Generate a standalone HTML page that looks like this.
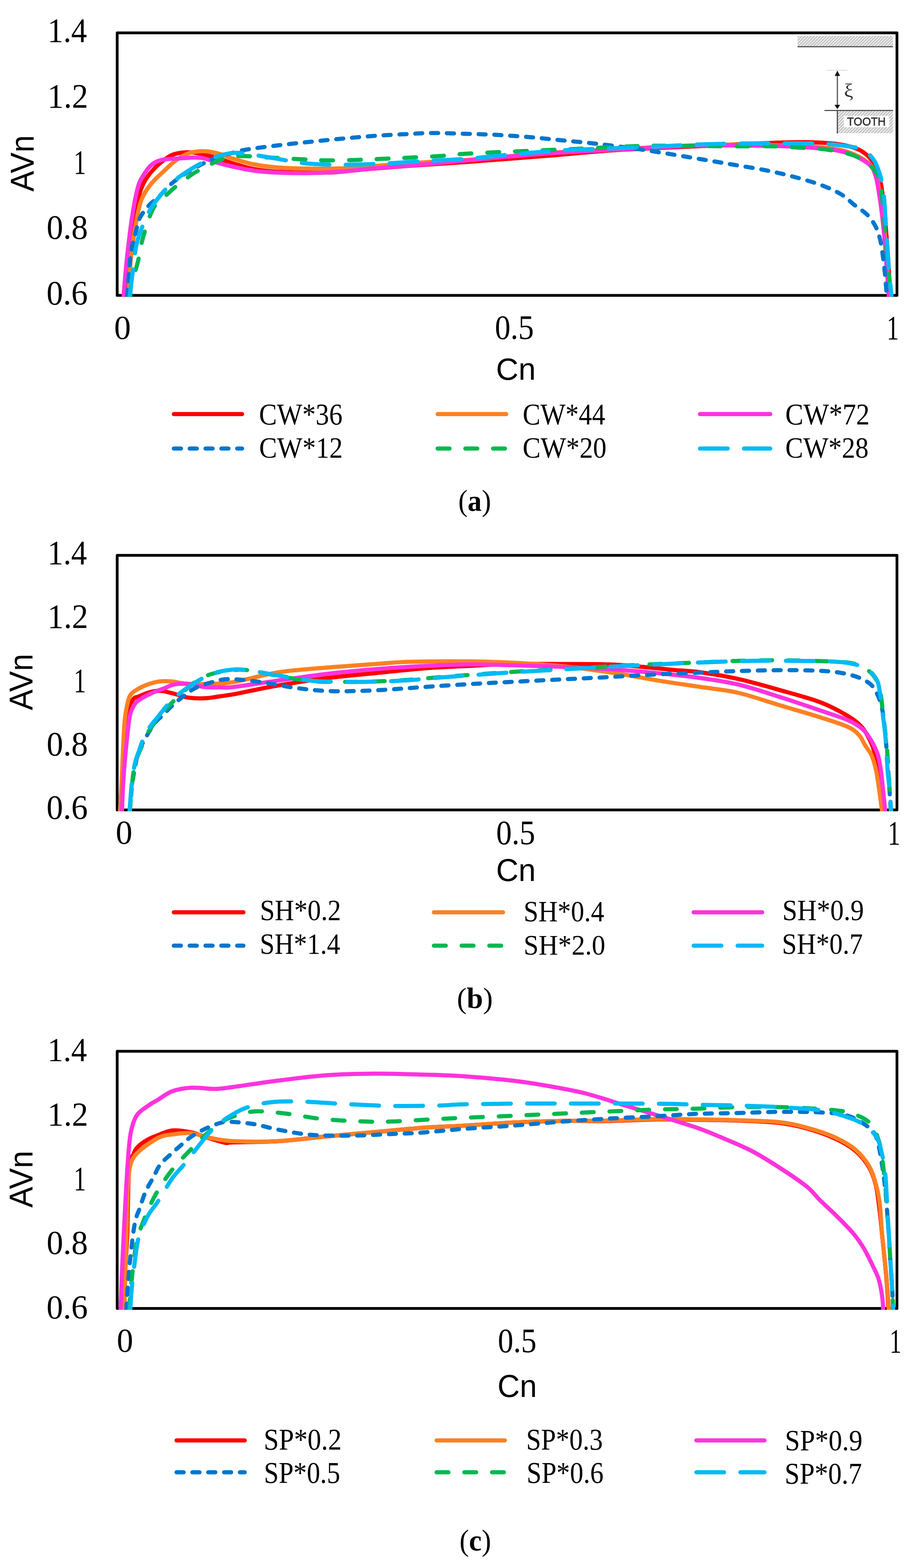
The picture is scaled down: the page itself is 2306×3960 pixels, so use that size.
<!DOCTYPE html><html><head><meta charset="utf-8"><title>AVn vs Cn</title><style>html,body{margin:0;padding:0;background:#fff;}svg{display:block;}</style></head><body>
<svg width="2306" height="3960" viewBox="0 0 2306 3960">
<defs><pattern id="hatch" patternUnits="userSpaceOnUse" width="5.5" height="8" patternTransform="rotate(45)"><rect width="5.5" height="8" fill="#ebebeb"/><rect x="0" y="0" width="1.8" height="8" fill="#b0b0b0"/></pattern><clipPath id="clipa"><rect x="0" y="0" width="2306" height="749.5"/></clipPath><clipPath id="clipb"><rect x="0" y="1380" width="2306" height="669.0"/></clipPath><clipPath id="clipc"><rect x="0" y="2630" width="2306" height="678.0"/></clipPath></defs>
<rect width="2306" height="3960" fill="#fff"/>
<g>
<rect x="296.0" y="83.0" width="1969.5" height="663.0" fill="none" stroke="#000" stroke-width="7" stroke-linejoin="round"/>
<rect x="296.0" y="1402.5" width="1969.5" height="643.0" fill="none" stroke="#000" stroke-width="7" stroke-linejoin="round"/>
<rect x="296.0" y="2655.0" width="1969.5" height="649.5" fill="none" stroke="#000" stroke-width="7" stroke-linejoin="round"/>
<g clip-path="url(#clipa)" fill="none" stroke-linecap="round" stroke-linejoin="round" stroke-width="10.5">
<path d="M316.0,750.0 C317.0,740.0 319.5,710.5 322.0,690.0 C324.5,669.5 327.8,651.2 331.0,627.0 C334.2,602.8 337.7,567.2 341.0,545.0 C344.3,522.8 347.5,507.5 351.0,494.0 C354.5,480.5 357.5,473.2 362.0,464.0 C366.5,454.8 371.3,447.3 378.0,439.0 C384.7,430.7 392.8,421.8 402.0,414.0 C411.2,406.2 422.7,396.8 433.0,392.0 C443.3,387.2 453.8,386.0 464.0,385.0 C474.2,384.0 482.2,384.3 494.0,386.0 C505.8,387.7 523.0,391.8 535.0,395.0 C547.0,398.2 556.8,402.0 566.0,405.0 C575.2,408.0 577.5,409.3 590.0,413.0 C602.5,416.7 622.2,423.5 641.0,427.0 C659.8,430.5 679.0,432.5 703.0,434.0 C727.0,435.5 761.2,435.8 785.0,436.0 C808.8,436.2 822.2,436.5 846.0,435.0 C869.8,433.5 897.3,429.7 928.0,427.0 C958.7,424.3 988.0,422.0 1030.0,419.0 C1072.0,416.0 1122.5,413.2 1180.0,409.0 C1237.5,404.8 1312.0,399.0 1375.0,394.0 C1438.0,389.0 1492.2,383.2 1558.0,379.0 C1623.8,374.8 1713.0,371.7 1770.0,369.0 C1827.0,366.3 1858.3,364.7 1900.0,363.0 C1941.7,361.3 1985.3,359.0 2020.0,359.0 C2054.7,359.0 2084.7,360.5 2108.0,363.0 C2131.3,365.5 2146.3,369.2 2160.0,374.0 C2173.7,378.8 2181.3,384.0 2190.0,392.0 C2198.7,400.0 2206.0,409.0 2212.0,422.0 C2218.0,435.0 2222.0,447.0 2226.0,470.0 C2230.0,493.0 2233.2,530.0 2236.0,560.0 C2238.8,590.0 2240.8,618.3 2243.0,650.0 C2245.2,681.7 2248.0,733.3 2249.0,750.0" stroke="#FF0000"/>
<path d="M324.0,750.0 C324.7,740.0 326.8,707.0 328.0,690.0 C329.2,673.0 328.5,668.7 331.0,648.0 C333.5,627.3 338.7,589.8 343.0,566.0 C347.3,542.2 350.5,522.0 357.0,505.0 C363.5,488.0 372.7,476.0 382.0,464.0 C391.3,452.0 402.8,442.7 413.0,433.0 C423.2,423.3 432.8,413.5 443.0,406.0 C453.2,398.5 463.7,392.0 474.0,388.0 C484.3,384.0 494.8,382.7 505.0,382.0 C515.2,381.3 524.8,382.3 535.0,384.0 C545.2,385.7 558.5,389.7 566.0,392.0 C573.5,394.3 567.5,394.2 580.0,398.0 C592.5,401.8 620.5,410.8 641.0,415.0 C661.5,419.2 679.0,421.2 703.0,423.0 C727.0,424.8 757.8,425.7 785.0,426.0 C812.2,426.3 838.8,426.2 866.0,425.0 C893.2,423.8 914.0,421.5 948.0,419.0 C982.0,416.5 1031.3,412.5 1070.0,410.0 C1108.7,407.5 1129.2,407.8 1180.0,404.0 C1230.8,400.2 1311.7,391.5 1375.0,387.0 C1438.3,382.5 1495.8,380.3 1560.0,377.0 C1624.2,373.7 1691.8,368.7 1760.0,367.0 C1828.2,365.3 1916.8,366.2 1969.0,367.0 C2021.2,367.8 2044.2,369.2 2073.0,372.0 C2101.8,374.8 2121.7,377.2 2142.0,384.0 C2162.3,390.8 2183.2,402.7 2195.0,413.0 C2206.8,423.3 2208.3,432.5 2213.0,446.0 C2217.7,459.5 2220.2,477.5 2223.0,494.0 C2225.8,510.5 2227.7,525.2 2230.0,545.0 C2232.3,564.8 2235.0,590.3 2237.0,613.0 C2239.0,635.7 2240.3,658.2 2242.0,681.0 C2243.7,703.8 2246.2,738.5 2247.0,750.0" stroke="#FF8022"/>
<path d="M312.0,750.0 C312.7,741.7 314.5,717.0 316.0,700.0 C317.5,683.0 318.5,670.3 321.0,648.0 C323.5,625.7 327.7,589.8 331.0,566.0 C334.3,542.2 337.7,522.0 341.0,505.0 C344.3,488.0 347.5,474.3 351.0,464.0 C354.5,453.7 357.8,449.8 362.0,443.0 C366.2,436.2 371.0,428.5 376.0,423.0 C381.0,417.5 385.8,413.3 392.0,410.0 C398.2,406.7 402.7,404.7 413.0,403.0 C423.3,401.3 440.5,400.8 454.0,400.0 C467.5,399.2 483.8,398.0 494.0,398.0 C504.2,398.0 506.3,398.0 515.0,400.0 C523.7,402.0 535.2,406.8 546.0,410.0 C556.8,413.2 564.2,415.5 580.0,419.0 C595.8,422.5 620.5,428.2 641.0,431.0 C661.5,433.8 679.0,435.0 703.0,436.0 C727.0,437.0 757.8,437.5 785.0,437.0 C812.2,436.5 838.8,435.0 866.0,433.0 C893.2,431.0 913.8,428.0 948.0,425.0 C982.2,422.0 1032.3,418.3 1071.0,415.0 C1109.7,411.7 1129.3,409.5 1180.0,405.0 C1230.7,400.5 1311.7,392.5 1375.0,388.0 C1438.3,383.5 1495.8,381.3 1560.0,378.0 C1624.2,374.7 1691.8,369.5 1760.0,368.0 C1828.2,366.5 1916.8,367.8 1969.0,369.0 C2021.2,370.2 2044.2,372.0 2073.0,375.0 C2101.8,378.0 2121.7,380.3 2142.0,387.0 C2162.3,393.7 2183.3,405.2 2195.0,415.0 C2206.7,424.8 2207.7,432.8 2212.0,446.0 C2216.3,459.2 2218.3,477.5 2221.0,494.0 C2223.7,510.5 2225.7,525.2 2228.0,545.0 C2230.3,564.8 2233.0,590.3 2235.0,613.0 C2237.0,635.7 2238.3,658.2 2240.0,681.0 C2241.7,703.8 2244.2,738.5 2245.0,750.0" stroke="#FF33DD"/>
<path d="M321.0,750.0 C321.7,741.5 323.3,717.8 325.0,699.0 C326.7,680.2 328.0,655.8 331.0,637.0 C334.0,618.2 339.3,600.3 343.0,586.0 C346.7,571.7 347.5,562.2 353.0,551.0 C358.5,539.8 367.5,528.5 376.0,519.0 C384.5,509.5 394.5,503.2 404.0,494.0 C413.5,484.8 423.0,472.8 433.0,464.0 C443.0,455.2 452.0,448.8 464.0,441.0 C476.0,433.2 491.3,424.2 505.0,417.0 C518.7,409.8 533.5,402.8 546.0,398.0 C558.5,393.2 567.5,391.3 580.0,388.0 C592.5,384.7 600.5,381.5 621.0,378.0 C641.5,374.5 675.7,370.3 703.0,367.0 C730.3,363.7 757.8,360.8 785.0,358.0 C812.2,355.2 838.8,352.5 866.0,350.0 C893.2,347.5 920.7,344.9 948.0,343.0 C975.3,341.1 1006.2,339.7 1030.0,338.5 C1053.8,337.3 1066.0,336.1 1091.0,336.0 C1116.0,335.9 1153.2,337.2 1180.0,338.0 C1206.8,338.8 1226.3,339.2 1252.0,340.5 C1277.7,341.8 1306.8,343.8 1334.0,346.0 C1361.2,348.2 1387.8,351.3 1415.0,354.0 C1442.2,356.7 1469.7,359.0 1497.0,362.0 C1524.3,365.0 1551.7,368.3 1579.0,372.0 C1606.3,375.7 1629.2,379.0 1661.0,384.0 C1692.8,389.0 1739.0,396.8 1770.0,402.0 C1801.0,407.2 1819.7,410.3 1847.0,415.0 C1874.3,419.7 1908.0,424.8 1934.0,430.0 C1960.0,435.2 1979.8,439.8 2003.0,446.0 C2026.2,452.2 2052.7,459.5 2073.0,467.0 C2093.3,474.5 2111.2,482.8 2125.0,491.0 C2138.8,499.2 2145.2,507.5 2156.0,516.0 C2166.8,524.5 2180.8,532.8 2190.0,542.0 C2199.2,551.2 2205.5,560.5 2211.0,571.0 C2216.5,581.5 2219.8,592.2 2223.0,605.0 C2226.2,617.8 2228.0,633.8 2230.0,648.0 C2232.0,662.2 2233.3,673.0 2235.0,690.0 C2236.7,707.0 2239.2,740.0 2240.0,750.0" stroke="#0076CE" stroke-dasharray="18 22"/>
<path d="M329.0,750.0 C329.3,744.8 329.2,729.0 331.0,719.0 C332.8,709.0 337.0,700.2 340.0,690.0 C343.0,679.8 345.3,673.5 349.0,658.0 C352.7,642.5 355.5,619.2 362.0,597.0 C368.5,574.8 377.8,542.8 388.0,525.0 C398.2,507.2 413.8,498.8 423.0,490.0 C432.2,481.2 432.8,480.2 443.0,472.0 C453.2,463.8 473.7,448.2 484.0,441.0 C494.3,433.8 494.7,434.5 505.0,429.0 C515.3,423.5 536.5,412.5 546.0,408.0 C555.5,403.5 553.0,404.3 562.0,402.0 C571.0,399.7 580.0,394.7 600.0,394.0 C620.0,393.3 656.0,396.7 682.0,398.0 C708.0,399.3 732.2,400.8 756.0,402.0 C779.8,403.2 801.2,404.7 825.0,405.0 C848.8,405.3 875.2,404.7 899.0,404.0 C922.8,403.3 944.8,402.0 968.0,401.0 C991.2,400.0 1014.0,399.2 1038.0,398.0 C1062.0,396.8 1088.3,395.7 1112.0,394.0 C1135.7,392.3 1143.0,390.2 1180.0,388.0 C1217.0,385.8 1288.0,383.0 1334.0,381.0 C1380.0,379.0 1415.2,377.8 1456.0,376.0 C1496.8,374.2 1544.8,371.3 1579.0,370.0 C1613.2,368.7 1629.2,368.2 1661.0,368.0 C1692.8,367.8 1733.2,368.8 1770.0,369.0 C1806.8,369.2 1851.8,369.4 1882.0,369.5 C1912.2,369.6 1927.8,368.9 1951.0,369.5 C1974.2,370.1 1997.8,371.6 2021.0,373.0 C2044.2,374.4 2066.8,374.5 2090.0,378.0 C2113.2,381.5 2140.8,386.2 2160.0,394.0 C2179.2,401.8 2194.7,414.7 2205.0,425.0 C2215.3,435.3 2218.2,443.5 2222.0,456.0 C2225.8,468.5 2226.0,482.7 2228.0,500.0 C2230.0,517.3 2232.0,536.7 2234.0,560.0 C2236.0,583.3 2238.0,616.7 2240.0,640.0 C2242.0,663.3 2244.2,681.7 2246.0,700.0 C2247.8,718.3 2250.2,741.7 2251.0,750.0" stroke="#00B850" stroke-dasharray="30 40"/>
<path d="M327.0,750.0 C327.7,745.0 329.7,730.3 331.0,720.0 C332.3,709.7 332.7,705.2 335.0,688.0 C337.3,670.8 340.5,637.3 345.0,617.0 C349.5,596.7 355.8,581.3 362.0,566.0 C368.2,550.7 373.5,538.7 382.0,525.0 C390.5,511.3 402.8,495.7 413.0,484.0 C423.2,472.3 434.5,462.5 443.0,455.0 C451.5,447.5 453.7,445.8 464.0,439.0 C474.3,432.2 491.3,421.2 505.0,414.0 C518.7,406.8 535.8,400.0 546.0,396.0 C556.2,392.0 557.0,391.7 566.0,390.0 C575.0,388.3 584.0,385.2 600.0,386.0 C616.0,386.8 641.5,391.3 662.0,394.5 C682.5,397.7 704.0,401.9 723.0,405.0 C742.0,408.1 755.5,411.2 776.0,413.0 C796.5,414.8 817.3,415.8 846.0,416.0 C874.7,416.2 910.5,415.5 948.0,414.0 C985.5,412.5 1032.3,409.2 1071.0,407.0 C1109.7,404.8 1143.0,403.8 1180.0,401.0 C1217.0,398.2 1253.8,393.5 1293.0,390.0 C1332.2,386.5 1374.2,382.5 1415.0,380.0 C1455.8,377.5 1497.0,376.7 1538.0,375.0 C1579.0,373.3 1624.0,371.7 1661.0,370.0 C1698.0,368.3 1726.2,366.2 1760.0,365.0 C1793.8,363.8 1829.2,363.1 1864.0,362.6 C1898.8,362.1 1934.2,362.0 1969.0,362.0 C2003.8,362.0 2044.2,361.4 2073.0,362.6 C2101.8,363.9 2124.7,366.9 2142.0,369.5 C2159.3,372.1 2166.5,372.8 2177.0,378.0 C2187.5,383.2 2197.5,390.8 2205.0,401.0 C2212.5,411.2 2218.0,426.8 2222.0,439.0 C2226.0,451.2 2227.2,463.8 2229.0,474.0 C2230.8,484.2 2231.7,485.7 2233.0,500.0 C2234.3,514.3 2235.7,540.0 2237.0,560.0 C2238.3,580.0 2239.5,598.3 2241.0,620.0 C2242.5,641.7 2244.2,668.3 2246.0,690.0 C2247.8,711.7 2251.0,740.0 2252.0,750.0" stroke="#00BAF5" stroke-dasharray="70 41"/>
</g>
<g clip-path="url(#clipb)" fill="none" stroke-linecap="round" stroke-linejoin="round" stroke-width="10.5">
<path d="M305.0,2050.0 C305.5,2038.3 306.8,2003.8 308.0,1980.0 C309.2,1956.2 309.7,1936.2 312.5,1907.0 C315.3,1877.8 321.2,1827.7 325.0,1804.5 C328.8,1781.3 330.7,1775.7 335.0,1768.0 C339.3,1760.3 343.2,1762.0 351.0,1758.5 C358.8,1755.0 372.3,1749.2 382.0,1747.0 C391.7,1744.8 398.8,1744.0 409.0,1745.0 C419.2,1746.0 432.2,1750.2 443.0,1753.0 C453.8,1755.8 462.0,1759.8 474.0,1761.6 C486.0,1763.4 501.3,1764.1 515.0,1763.6 C528.7,1763.1 543.5,1760.2 556.0,1758.5 C568.5,1756.8 575.8,1756.0 590.0,1753.4 C604.2,1750.8 622.2,1746.7 641.0,1743.0 C659.8,1739.3 672.3,1736.1 703.0,1731.0 C733.7,1725.9 784.2,1717.7 825.0,1712.5 C865.8,1707.3 907.0,1704.1 948.0,1700.0 C989.0,1695.9 1032.3,1691.0 1071.0,1688.0 C1109.7,1685.0 1143.0,1683.8 1180.0,1682.0 C1217.0,1680.2 1253.8,1677.8 1293.0,1677.0 C1332.2,1676.2 1374.2,1676.8 1415.0,1677.0 C1455.8,1677.2 1503.8,1676.8 1538.0,1678.0 C1572.2,1679.2 1592.7,1681.7 1620.0,1684.0 C1647.3,1686.3 1677.0,1689.7 1702.0,1692.0 C1727.0,1694.3 1743.0,1694.2 1770.0,1698.0 C1797.0,1701.8 1830.8,1707.3 1864.0,1714.7 C1897.2,1722.1 1934.2,1732.7 1969.0,1742.6 C2003.8,1752.5 2044.2,1763.0 2073.0,1774.0 C2101.8,1785.0 2124.7,1798.2 2142.0,1808.6 C2159.3,1819.0 2167.7,1826.0 2177.0,1836.4 C2186.3,1846.8 2192.8,1860.4 2198.0,1871.0 C2203.2,1881.6 2205.5,1887.7 2208.5,1900.0 C2211.5,1912.3 2213.4,1929.2 2216.0,1945.0 C2218.6,1960.8 2221.3,1977.5 2224.0,1995.0 C2226.7,2012.5 2230.7,2040.8 2232.0,2050.0" stroke="#FF0000"/>
<path d="M303.0,2050.0 C303.5,2041.7 305.1,2017.1 306.0,2000.0 C306.9,1982.9 307.0,1976.8 308.4,1947.6 C309.8,1918.4 312.1,1853.9 314.5,1825.0 C316.9,1796.1 319.9,1786.0 322.7,1774.0 C325.4,1762.0 326.9,1758.5 331.0,1753.0 C335.1,1747.5 340.2,1745.0 347.0,1741.0 C353.8,1737.0 362.8,1732.3 372.0,1729.0 C381.2,1725.7 392.3,1722.3 402.5,1721.0 C412.7,1719.7 421.1,1720.0 433.0,1721.0 C444.9,1722.0 457.0,1726.0 474.0,1727.0 C491.0,1728.0 515.7,1727.7 535.0,1727.0 C554.3,1726.3 562.0,1727.5 590.0,1722.7 C618.0,1717.9 663.8,1704.1 703.0,1698.0 C742.2,1691.9 784.2,1689.5 825.0,1686.0 C865.8,1682.5 913.8,1679.4 948.0,1677.0 C982.2,1674.6 991.3,1672.7 1030.0,1671.6 C1068.7,1670.5 1136.2,1670.0 1180.0,1670.3 C1223.8,1670.6 1253.8,1671.6 1293.0,1673.6 C1332.2,1675.5 1381.0,1678.9 1415.0,1682.0 C1449.0,1685.1 1469.7,1688.3 1497.0,1692.0 C1524.3,1695.7 1551.7,1699.6 1579.0,1704.0 C1606.3,1708.4 1629.2,1713.4 1661.0,1718.6 C1692.8,1723.8 1736.2,1729.8 1770.0,1735.0 C1803.8,1740.2 1830.8,1741.8 1864.0,1749.5 C1897.2,1757.2 1934.2,1770.6 1969.0,1781.0 C2003.8,1791.4 2044.2,1802.8 2073.0,1812.0 C2101.8,1821.2 2125.8,1828.5 2142.0,1836.0 C2158.2,1843.5 2162.8,1849.3 2170.0,1857.0 C2177.2,1864.7 2179.7,1873.3 2185.0,1882.0 C2190.3,1890.7 2197.3,1898.2 2202.0,1909.0 C2206.7,1919.8 2210.0,1933.3 2213.0,1947.0 C2216.0,1960.7 2217.5,1973.8 2220.0,1991.0 C2222.5,2008.2 2226.7,2040.2 2228.0,2050.0" stroke="#FF8022"/>
<path d="M308.0,2050.0 C308.5,2038.3 309.6,2003.8 311.0,1980.0 C312.4,1956.2 314.0,1934.5 316.6,1907.0 C319.2,1879.5 323.4,1835.5 326.8,1815.0 C330.2,1794.5 333.0,1791.8 337.0,1784.0 C341.0,1776.2 343.5,1773.5 351.0,1768.0 C358.5,1762.5 371.7,1755.8 382.0,1751.0 C392.3,1746.2 402.8,1742.8 413.0,1739.0 C423.2,1735.2 431.2,1729.8 443.0,1728.0 C454.8,1726.2 472.0,1726.8 484.0,1728.0 C496.0,1729.2 503.0,1733.7 515.0,1735.0 C527.0,1736.3 543.5,1736.0 556.0,1736.0 C568.5,1736.0 565.5,1737.9 590.0,1735.0 C614.5,1732.1 663.8,1724.1 703.0,1718.6 C742.2,1713.1 784.2,1706.8 825.0,1702.0 C865.8,1697.2 907.0,1693.3 948.0,1690.0 C989.0,1686.7 1032.3,1684.0 1071.0,1682.0 C1109.7,1680.0 1143.0,1678.3 1180.0,1678.0 C1217.0,1677.7 1253.8,1679.0 1293.0,1680.0 C1332.2,1681.0 1374.2,1682.3 1415.0,1684.0 C1455.8,1685.7 1497.0,1687.3 1538.0,1690.0 C1579.0,1692.7 1622.3,1696.2 1661.0,1700.0 C1699.7,1703.8 1736.2,1707.7 1770.0,1712.5 C1803.8,1717.3 1830.8,1720.8 1864.0,1728.7 C1897.2,1736.6 1934.2,1749.0 1969.0,1760.0 C2003.8,1771.0 2044.2,1784.9 2073.0,1794.7 C2101.8,1804.5 2124.7,1811.5 2142.0,1819.0 C2159.3,1826.5 2168.3,1833.2 2177.0,1840.0 C2185.7,1846.8 2189.0,1853.0 2194.0,1860.0 C2199.0,1867.0 2203.0,1873.8 2207.0,1882.0 C2211.0,1890.2 2215.0,1898.2 2218.0,1909.0 C2221.0,1919.8 2223.0,1933.3 2225.0,1947.0 C2227.0,1960.7 2228.2,1973.8 2230.0,1991.0 C2231.8,2008.2 2235.0,2040.2 2236.0,2050.0" stroke="#FF33DD"/>
<path d="M328.0,2050.0 C328.8,2039.8 330.8,2007.3 333.0,1988.5 C335.2,1969.7 338.0,1952.3 341.0,1937.0 C344.0,1921.7 345.8,1910.0 351.0,1896.5 C356.2,1883.0 365.2,1867.9 372.0,1856.0 C378.8,1844.1 385.2,1833.6 392.0,1825.0 C398.8,1816.4 406.2,1811.3 413.0,1804.5 C419.8,1797.7 424.5,1791.8 433.0,1784.0 C441.5,1776.2 453.8,1765.3 464.0,1757.5 C474.2,1749.7 482.7,1742.8 494.5,1737.0 C506.3,1731.2 520.8,1726.7 535.0,1723.0 C549.2,1719.3 558.8,1715.0 580.0,1715.0 C601.2,1715.0 634.7,1719.3 662.0,1723.0 C689.3,1726.7 716.8,1733.3 744.0,1737.0 C771.2,1740.7 797.8,1743.7 825.0,1745.0 C852.2,1746.3 879.7,1745.7 907.0,1745.0 C934.3,1744.3 961.7,1742.7 989.0,1741.0 C1016.3,1739.3 1039.2,1737.2 1071.0,1735.0 C1102.8,1732.8 1143.0,1730.2 1180.0,1728.0 C1217.0,1725.8 1253.8,1724.0 1293.0,1722.0 C1332.2,1720.0 1374.2,1718.0 1415.0,1716.0 C1455.8,1714.0 1497.0,1712.2 1538.0,1710.0 C1579.0,1707.8 1624.0,1704.8 1661.0,1703.0 C1698.0,1701.2 1731.8,1700.2 1760.0,1699.0 C1788.2,1697.8 1801.0,1697.0 1830.0,1696.0 C1859.0,1695.0 1899.3,1693.5 1934.0,1693.0 C1968.7,1692.5 2009.0,1692.3 2038.0,1693.0 C2067.0,1693.7 2087.7,1694.5 2108.0,1697.0 C2128.3,1699.5 2145.5,1703.3 2160.0,1708.0 C2174.5,1712.7 2186.3,1718.7 2195.0,1725.0 C2203.7,1731.3 2206.8,1736.7 2212.0,1746.0 C2217.2,1755.3 2222.5,1767.7 2226.0,1781.0 C2229.5,1794.3 2230.7,1806.2 2233.0,1826.0 C2235.3,1845.8 2238.0,1876.0 2240.0,1900.0 C2242.0,1924.0 2243.3,1945.0 2245.0,1970.0 C2246.7,1995.0 2249.2,2036.7 2250.0,2050.0" stroke="#0076CE" stroke-dasharray="18 22"/>
<path d="M328.0,2050.0 C328.8,2039.2 330.8,2005.0 333.0,1985.0 C335.2,1965.0 336.9,1946.5 341.0,1930.0 C345.1,1913.5 351.0,1901.0 357.5,1886.0 C364.0,1871.0 367.4,1858.3 380.0,1840.0 C392.6,1821.7 413.9,1795.8 433.0,1776.0 C452.1,1756.2 477.5,1733.3 494.5,1721.0 C511.5,1708.7 520.8,1706.5 535.0,1702.0 C549.2,1697.5 565.7,1695.7 580.0,1694.0 C594.3,1692.3 600.5,1689.8 621.0,1692.0 C641.5,1694.2 675.7,1702.3 703.0,1707.0 C730.3,1711.7 757.8,1717.5 785.0,1720.0 C812.2,1722.5 838.8,1721.8 866.0,1722.0 C893.2,1722.2 920.7,1721.8 948.0,1721.0 C975.3,1720.2 1002.7,1718.8 1030.0,1717.0 C1057.3,1715.2 1087.0,1712.0 1112.0,1710.0 C1137.0,1708.0 1149.8,1707.2 1180.0,1705.0 C1210.2,1702.8 1253.8,1699.5 1293.0,1697.0 C1332.2,1694.5 1374.2,1692.3 1415.0,1690.0 C1455.8,1687.7 1497.0,1685.2 1538.0,1683.0 C1579.0,1680.8 1622.3,1678.7 1661.0,1677.0 C1699.7,1675.3 1730.3,1674.5 1770.0,1673.0 C1809.7,1671.5 1860.2,1668.8 1899.0,1668.0 C1937.8,1667.2 1968.2,1667.5 2003.0,1668.0 C2037.8,1668.5 2081.8,1669.5 2108.0,1671.0 C2134.2,1672.5 2145.5,1673.0 2160.0,1677.0 C2174.5,1681.0 2185.8,1687.8 2195.0,1695.0 C2204.2,1702.2 2210.2,1710.8 2215.0,1720.0 C2219.8,1729.2 2221.5,1736.7 2224.0,1750.0 C2226.5,1763.3 2228.0,1783.3 2230.0,1800.0 C2232.0,1816.7 2234.2,1833.3 2236.0,1850.0 C2237.8,1866.7 2239.5,1881.7 2241.0,1900.0 C2242.5,1918.3 2243.5,1935.0 2245.0,1960.0 C2246.5,1985.0 2249.2,2035.0 2250.0,2050.0" stroke="#00B850" stroke-dasharray="30 40"/>
<path d="M327.0,2050.0 C328.0,2038.0 330.7,1998.5 333.0,1978.0 C335.3,1957.5 338.0,1940.6 341.0,1927.0 C344.0,1913.4 346.8,1908.3 351.0,1896.5 C355.2,1884.7 360.8,1866.9 366.0,1856.0 C371.2,1845.1 376.3,1838.8 382.0,1831.0 C387.7,1823.2 392.8,1817.8 400.0,1809.0 C407.2,1800.2 416.0,1787.7 425.0,1778.0 C434.0,1768.3 442.4,1760.2 454.0,1751.0 C465.6,1741.8 481.0,1731.2 494.5,1723.0 C508.0,1714.8 520.8,1707.2 535.0,1702.0 C549.2,1696.8 565.7,1693.7 580.0,1692.0 C594.3,1690.3 600.5,1689.7 621.0,1692.0 C641.5,1694.3 675.8,1701.5 703.0,1706.0 C730.2,1710.5 757.3,1716.3 784.5,1719.0 C811.7,1721.7 838.8,1721.6 866.0,1722.0 C893.2,1722.4 920.7,1722.2 948.0,1721.5 C975.3,1720.8 1002.7,1719.8 1030.0,1718.0 C1057.3,1716.2 1087.0,1713.0 1112.0,1711.0 C1137.0,1709.0 1149.8,1708.2 1180.0,1706.0 C1210.2,1703.8 1253.8,1700.5 1293.0,1698.0 C1332.2,1695.5 1374.2,1693.3 1415.0,1691.0 C1455.8,1688.7 1497.0,1686.2 1538.0,1684.0 C1579.0,1681.8 1622.3,1679.8 1661.0,1678.0 C1699.7,1676.2 1730.3,1674.5 1770.0,1673.0 C1809.7,1671.5 1860.2,1669.7 1899.0,1669.0 C1937.8,1668.3 1968.2,1668.7 2003.0,1669.0 C2037.8,1669.3 2081.8,1669.5 2108.0,1671.0 C2134.2,1672.5 2145.5,1674.2 2160.0,1678.0 C2174.5,1681.8 2185.8,1687.3 2195.0,1694.0 C2204.2,1700.7 2210.5,1709.3 2215.0,1718.0 C2219.5,1726.7 2219.8,1733.8 2222.0,1746.0 C2224.2,1758.2 2225.9,1774.8 2228.0,1791.0 C2230.1,1807.2 2232.9,1828.2 2234.6,1843.0 C2236.3,1857.8 2236.8,1862.7 2238.0,1880.0 C2239.2,1897.3 2240.6,1928.5 2242.0,1947.0 C2243.4,1965.5 2245.0,1973.8 2246.5,1991.0 C2248.0,2008.2 2250.2,2040.2 2251.0,2050.0" stroke="#00BAF5" stroke-dasharray="70 41"/>
</g>
<g clip-path="url(#clipc)" fill="none" stroke-linecap="round" stroke-linejoin="round" stroke-width="10.5">
<path d="M314.0,3310.0 C314.5,3291.7 315.8,3233.0 317.0,3200.0 C318.2,3167.0 320.0,3153.0 321.5,3112.0 C323.0,3071.0 323.2,2987.2 326.0,2954.0 C328.8,2920.8 333.9,2923.0 338.0,2913.0 C342.1,2903.0 344.3,2900.0 350.5,2894.0 C356.7,2888.0 366.9,2881.5 375.0,2877.0 C383.1,2872.5 389.0,2870.7 399.0,2867.0 C409.0,2863.3 420.8,2856.2 435.0,2855.0 C449.2,2853.8 469.8,2857.2 484.0,2860.0 C498.2,2862.8 506.0,2867.7 520.0,2872.0 C534.0,2876.3 556.3,2883.8 568.0,2886.0 C579.7,2888.2 567.5,2885.7 590.0,2885.0 C612.5,2884.3 663.8,2884.5 703.0,2882.0 C742.2,2879.5 784.2,2873.8 825.0,2870.0 C865.8,2866.2 907.0,2862.7 948.0,2859.0 C989.0,2855.3 1034.0,2850.7 1071.0,2848.0 C1108.0,2845.3 1133.0,2845.2 1170.0,2843.0 C1207.0,2840.8 1252.2,2837.0 1293.0,2835.0 C1333.8,2833.0 1374.2,2831.7 1415.0,2831.0 C1455.8,2830.3 1497.0,2831.7 1538.0,2831.0 C1579.0,2830.3 1624.0,2827.5 1661.0,2827.0 C1698.0,2826.5 1726.2,2827.5 1760.0,2828.0 C1793.8,2828.5 1829.2,2828.7 1864.0,2830.0 C1898.8,2831.3 1940.0,2832.7 1969.0,2836.0 C1998.0,2839.3 2014.8,2843.5 2038.0,2850.0 C2061.2,2856.5 2087.7,2865.7 2108.0,2875.0 C2128.3,2884.3 2145.5,2893.8 2160.0,2906.0 C2174.5,2918.2 2186.3,2933.5 2195.0,2948.0 C2203.7,2962.5 2207.7,2975.8 2212.0,2993.0 C2216.3,3010.2 2218.3,3030.0 2221.0,3051.0 C2223.7,3072.0 2225.7,3096.3 2228.0,3119.0 C2230.3,3141.7 2232.8,3164.2 2235.0,3187.0 C2237.2,3209.8 2239.5,3235.5 2241.0,3256.0 C2242.5,3276.5 2243.5,3301.0 2244.0,3310.0" stroke="#FF0000"/>
<path d="M314.0,3310.0 C314.5,3291.7 316.0,3235.0 317.0,3200.0 C318.0,3165.0 319.0,3133.3 320.0,3100.0 C321.0,3066.7 321.3,3026.7 323.0,3000.0 C324.7,2973.3 325.4,2955.3 330.0,2940.0 C334.6,2924.7 339.0,2919.0 350.5,2908.0 C362.0,2897.0 384.9,2881.2 399.0,2874.0 C413.1,2866.8 420.8,2867.0 435.0,2865.0 C449.2,2863.0 467.8,2860.5 484.0,2862.0 C500.2,2863.5 514.3,2870.7 532.0,2874.0 C549.7,2877.3 561.5,2880.7 590.0,2882.0 C618.5,2883.3 663.8,2884.0 703.0,2882.0 C742.2,2880.0 784.2,2873.8 825.0,2870.0 C865.8,2866.2 907.0,2862.7 948.0,2859.0 C989.0,2855.3 1034.0,2850.7 1071.0,2848.0 C1108.0,2845.3 1133.0,2845.2 1170.0,2843.0 C1207.0,2840.8 1252.2,2837.0 1293.0,2835.0 C1333.8,2833.0 1374.2,2831.8 1415.0,2831.0 C1455.8,2830.2 1497.0,2830.8 1538.0,2830.0 C1579.0,2829.2 1624.0,2826.5 1661.0,2826.0 C1698.0,2825.5 1726.2,2826.5 1760.0,2827.0 C1793.8,2827.5 1829.2,2827.8 1864.0,2829.0 C1898.8,2830.2 1940.0,2830.8 1969.0,2834.0 C1998.0,2837.2 2014.8,2841.7 2038.0,2848.0 C2061.2,2854.3 2087.7,2862.8 2108.0,2872.0 C2128.3,2881.2 2145.5,2890.8 2160.0,2903.0 C2174.5,2915.2 2186.3,2930.5 2195.0,2945.0 C2203.7,2959.5 2207.5,2974.2 2212.0,2990.0 C2216.5,3005.8 2219.3,3018.5 2222.0,3040.0 C2224.7,3061.5 2225.8,3094.5 2228.0,3119.0 C2230.2,3143.5 2232.8,3164.2 2235.0,3187.0 C2237.2,3209.8 2239.8,3235.5 2241.5,3256.0 C2243.2,3276.5 2244.4,3301.0 2245.0,3310.0" stroke="#FF8022"/>
<path d="M304.5,3310.0 C305.3,3289.0 307.4,3229.2 309.4,3184.0 C311.4,3138.8 314.2,3083.3 316.6,3039.0 C319.0,2994.7 321.6,2948.3 324.0,2918.0 C326.4,2887.7 327.3,2874.0 331.0,2857.0 C334.7,2840.0 338.7,2826.8 346.0,2816.0 C353.3,2805.2 366.2,2798.4 375.0,2792.0 C383.8,2785.6 389.0,2783.5 399.0,2777.5 C409.0,2771.5 420.8,2761.1 435.0,2756.0 C449.2,2750.9 465.8,2748.0 484.0,2747.0 C502.2,2746.0 526.3,2750.3 544.0,2750.0 C561.7,2749.7 563.5,2748.5 590.0,2745.0 C616.5,2741.5 663.8,2733.9 703.0,2729.0 C742.2,2724.1 784.2,2718.4 825.0,2715.5 C865.8,2712.6 907.0,2711.8 948.0,2711.5 C989.0,2711.2 1034.0,2712.9 1071.0,2714.0 C1108.0,2715.1 1133.0,2715.5 1170.0,2718.0 C1207.0,2720.5 1258.8,2725.2 1293.0,2729.0 C1327.2,2732.8 1344.3,2735.7 1375.0,2741.0 C1405.7,2746.3 1443.0,2752.5 1477.0,2761.0 C1511.0,2769.5 1548.3,2782.7 1579.0,2792.0 C1609.7,2801.3 1630.8,2807.7 1661.0,2817.0 C1691.2,2826.3 1731.8,2838.2 1760.0,2848.0 C1788.2,2857.8 1806.8,2866.2 1830.0,2876.0 C1853.2,2885.8 1875.8,2894.8 1899.0,2907.0 C1922.2,2919.2 1945.8,2934.0 1969.0,2949.0 C1992.2,2964.0 2021.0,2983.3 2038.0,2997.0 C2055.0,3010.7 2058.3,3018.5 2071.0,3031.0 C2083.7,3043.5 2099.8,3057.8 2114.0,3072.0 C2128.2,3086.2 2144.7,3102.5 2156.0,3116.0 C2167.3,3129.5 2174.0,3139.7 2182.0,3153.0 C2190.0,3166.3 2197.8,3183.2 2204.0,3196.0 C2210.2,3208.8 2215.0,3217.2 2219.0,3230.0 C2223.0,3242.8 2226.0,3259.7 2228.0,3273.0 C2230.0,3286.3 2230.5,3303.8 2231.0,3310.0" stroke="#FF33DD"/>
<path d="M319.0,3310.0 C319.8,3297.2 322.0,3258.0 324.0,3233.0 C326.0,3208.0 328.2,3184.3 331.0,3160.0 C333.8,3135.7 337.3,3105.2 341.0,3087.0 C344.7,3068.8 348.6,3063.8 353.0,3051.0 C357.4,3038.2 361.8,3022.8 367.5,3010.0 C373.2,2997.2 380.9,2985.3 387.0,2974.0 C393.1,2962.7 397.2,2951.3 404.0,2942.0 C410.8,2932.7 419.5,2926.0 428.0,2918.0 C436.5,2910.0 445.7,2902.0 455.0,2894.0 C464.3,2886.0 473.2,2877.3 484.0,2870.0 C494.8,2862.7 508.0,2855.7 520.0,2850.0 C532.0,2844.3 546.0,2838.8 556.0,2836.0 C566.0,2833.2 565.8,2832.5 580.0,2833.0 C594.2,2833.5 620.5,2835.7 641.0,2839.0 C661.5,2842.3 679.0,2848.5 703.0,2853.0 C727.0,2857.5 754.3,2863.5 785.0,2866.0 C815.7,2868.5 853.0,2868.3 887.0,2868.0 C921.0,2867.7 958.3,2865.3 989.0,2864.0 C1019.7,2862.7 1040.8,2862.2 1071.0,2860.0 C1101.2,2857.8 1133.0,2853.8 1170.0,2851.0 C1207.0,2848.2 1252.2,2846.0 1293.0,2843.0 C1333.8,2840.0 1374.2,2836.0 1415.0,2833.0 C1455.8,2830.0 1497.0,2827.3 1538.0,2825.0 C1579.0,2822.7 1624.0,2821.0 1661.0,2819.0 C1698.0,2817.0 1726.2,2814.3 1760.0,2813.0 C1793.8,2811.7 1829.2,2811.8 1864.0,2811.0 C1898.8,2810.2 1934.2,2808.2 1969.0,2808.0 C2003.8,2807.8 2044.2,2807.8 2073.0,2809.5 C2101.8,2811.2 2121.7,2811.6 2142.0,2818.0 C2162.3,2824.4 2182.8,2837.8 2195.0,2848.0 C2207.2,2858.2 2209.8,2862.2 2215.5,2879.0 C2221.2,2895.8 2225.6,2928.2 2229.0,2949.0 C2232.4,2969.8 2234.2,2987.0 2236.0,3004.0 C2237.8,3021.0 2238.5,3031.8 2240.0,3051.0 C2241.5,3070.2 2243.5,3096.3 2245.0,3119.0 C2246.5,3141.7 2247.6,3164.2 2249.0,3187.0 C2250.4,3209.8 2252.3,3235.5 2253.5,3256.0 C2254.7,3276.5 2255.6,3301.0 2256.0,3310.0" stroke="#0076CE" stroke-dasharray="18 22"/>
<path d="M326.0,3310.0 C326.5,3303.2 326.2,3296.0 329.0,3269.0 C331.8,3242.0 337.4,3179.0 343.0,3148.0 C348.6,3117.0 354.1,3105.2 362.6,3083.0 C371.1,3060.8 381.9,3036.5 394.0,3015.0 C406.1,2993.5 420.8,2972.2 435.0,2954.0 C449.2,2935.8 464.8,2920.8 479.0,2906.0 C493.2,2891.2 507.2,2876.3 520.0,2865.0 C532.8,2853.7 546.0,2845.0 556.0,2838.0 C566.0,2831.0 565.8,2828.2 580.0,2823.0 C594.2,2817.8 617.2,2808.8 641.0,2807.0 C664.8,2805.2 695.7,2809.5 723.0,2812.5 C750.3,2815.5 777.7,2821.9 805.0,2825.0 C832.3,2828.1 859.8,2829.7 887.0,2831.0 C914.2,2832.3 937.3,2833.5 968.0,2833.0 C998.7,2832.5 1037.3,2829.7 1071.0,2828.0 C1104.7,2826.3 1133.0,2824.7 1170.0,2823.0 C1207.0,2821.3 1252.2,2819.8 1293.0,2818.0 C1333.8,2816.2 1374.2,2814.3 1415.0,2812.5 C1455.8,2810.7 1497.0,2808.8 1538.0,2807.0 C1579.0,2805.2 1624.0,2803.2 1661.0,2802.0 C1698.0,2800.8 1726.2,2801.0 1760.0,2800.0 C1793.8,2799.0 1829.2,2796.7 1864.0,2796.0 C1898.8,2795.3 1934.2,2795.2 1969.0,2796.0 C2003.8,2796.8 2044.2,2798.8 2073.0,2801.0 C2101.8,2803.2 2121.7,2804.0 2142.0,2809.5 C2162.3,2815.0 2182.2,2822.4 2195.0,2834.0 C2207.8,2845.6 2213.3,2862.8 2219.0,2879.0 C2224.7,2895.2 2225.8,2907.8 2229.0,2931.0 C2232.2,2954.2 2236.2,2998.0 2238.0,3018.0 C2239.8,3038.0 2238.8,3034.2 2240.0,3051.0 C2241.2,3067.8 2243.5,3096.3 2245.0,3119.0 C2246.5,3141.7 2247.6,3164.2 2249.0,3187.0 C2250.4,3209.8 2252.3,3235.5 2253.5,3256.0 C2254.7,3276.5 2255.6,3301.0 2256.0,3310.0" stroke="#00B850" stroke-dasharray="30 40"/>
<path d="M328.7,3310.0 C329.5,3299.2 330.8,3272.0 333.6,3245.0 C336.4,3218.0 342.1,3170.2 345.7,3148.0 C349.3,3125.8 350.1,3125.3 355.0,3112.0 C359.9,3098.7 367.7,3081.0 375.0,3068.0 C382.3,3055.0 389.0,3049.3 399.0,3034.0 C409.0,3018.7 424.2,2991.3 435.0,2976.0 C445.8,2960.7 452.2,2956.5 464.0,2942.0 C475.8,2927.5 494.2,2903.2 505.5,2889.0 C516.8,2874.8 523.6,2865.8 532.0,2857.0 C540.4,2848.2 548.0,2842.3 556.0,2836.0 C564.0,2829.7 569.2,2825.3 580.0,2819.0 C590.8,2812.7 604.0,2803.8 621.0,2798.0 C638.0,2792.2 658.2,2786.7 682.0,2784.0 C705.8,2781.3 733.3,2781.3 764.0,2782.0 C794.7,2782.7 828.5,2786.2 866.0,2788.0 C903.5,2789.8 948.0,2792.3 989.0,2793.0 C1030.0,2793.7 1081.8,2792.7 1112.0,2792.0 C1142.2,2791.3 1133.0,2789.8 1170.0,2789.0 C1207.0,2788.2 1286.3,2787.3 1334.0,2787.0 C1381.7,2786.7 1415.2,2787.0 1456.0,2787.0 C1496.8,2787.0 1538.0,2786.8 1579.0,2787.0 C1620.0,2787.2 1671.8,2787.5 1702.0,2788.0 C1732.2,2788.5 1733.0,2789.3 1760.0,2790.0 C1787.0,2790.7 1829.2,2791.0 1864.0,2792.0 C1898.8,2793.0 1934.2,2794.0 1969.0,2796.0 C2003.8,2798.0 2047.0,2800.6 2073.0,2804.0 C2099.0,2807.4 2107.7,2811.0 2125.0,2816.5 C2142.3,2822.0 2162.5,2828.2 2177.0,2837.0 C2191.5,2845.8 2203.8,2857.3 2212.0,2869.0 C2220.2,2880.7 2222.0,2890.8 2226.0,2907.0 C2230.0,2923.2 2233.7,2945.5 2236.0,2966.0 C2238.3,2986.5 2238.5,3004.5 2240.0,3030.0 C2241.5,3055.5 2243.5,3092.8 2245.0,3119.0 C2246.5,3145.2 2247.6,3164.2 2249.0,3187.0 C2250.4,3209.8 2252.3,3235.5 2253.5,3256.0 C2254.7,3276.5 2255.6,3301.0 2256.0,3310.0" stroke="#00BAF5" stroke-dasharray="70 41"/>
</g>
<path d="M439.1,1045.8 H611.4" stroke="#FF0000" stroke-width="10.5" stroke-linecap="round" fill="none"/>
<path d="M439.1,1132.7 H611.4" stroke="#0076CE" stroke-width="10.5" stroke-linecap="round" fill="none" stroke-dasharray="18 22"/>
<path d="M1105.4,1045.8 H1278.5" stroke="#FF8022" stroke-width="10.5" stroke-linecap="round" fill="none"/>
<path d="M1105.4,1132.7 H1278.5" stroke="#00B850" stroke-width="10.5" stroke-linecap="round" fill="none" stroke-dasharray="30 40"/>
<path d="M1768.0,1045.8 H1945.5" stroke="#FF33DD" stroke-width="10.5" stroke-linecap="round" fill="none"/>
<path d="M1768.0,1132.7 H1945.5" stroke="#00BAF5" stroke-width="10.5" stroke-linecap="round" fill="none" stroke-dasharray="70 41"/>
<path d="M439.0,2304.0 H614.8" stroke="#FF0000" stroke-width="10.5" stroke-linecap="round" fill="none"/>
<path d="M439.0,2388.3 H614.8" stroke="#0076CE" stroke-width="10.5" stroke-linecap="round" fill="none" stroke-dasharray="18 22"/>
<path d="M1095.9,2304.0 H1270.6" stroke="#FF8022" stroke-width="10.5" stroke-linecap="round" fill="none"/>
<path d="M1095.9,2388.3 H1270.6" stroke="#00B850" stroke-width="10.5" stroke-linecap="round" fill="none" stroke-dasharray="30 40"/>
<path d="M1752.0,2304.0 H1925.0" stroke="#FF33DD" stroke-width="10.5" stroke-linecap="round" fill="none"/>
<path d="M1752.0,2388.3 H1925.0" stroke="#00BAF5" stroke-width="10.5" stroke-linecap="round" fill="none" stroke-dasharray="70 41"/>
<path d="M445.9,3637.8 H618.2" stroke="#FF0000" stroke-width="10.5" stroke-linecap="round" fill="none"/>
<path d="M445.9,3718.3 H618.2" stroke="#0076CE" stroke-width="10.5" stroke-linecap="round" fill="none" stroke-dasharray="18 22"/>
<path d="M1102.7,3637.8 H1275.0" stroke="#FF8022" stroke-width="10.5" stroke-linecap="round" fill="none"/>
<path d="M1102.7,3718.3 H1275.0" stroke="#00B850" stroke-width="10.5" stroke-linecap="round" fill="none" stroke-dasharray="30 40"/>
<path d="M1758.9,3637.8 H1930.9" stroke="#FF33DD" stroke-width="10.5" stroke-linecap="round" fill="none"/>
<path d="M1758.9,3718.3 H1930.9" stroke="#00BAF5" stroke-width="10.5" stroke-linecap="round" fill="none" stroke-dasharray="70 41"/>
<rect x="2014.4" y="90.7" width="241" height="26" fill="url(#hatch)"/>
<path d="M2014.4,118 H2255.5" stroke="#3a3a3a" stroke-width="2.6"/>
<path d="M2086.4,177.5 H2140.2" stroke="#d0d0d0" stroke-width="1.5"/>
<path d="M2115,186 V268" stroke="#555" stroke-width="3"/>
<path d="M2115,178.2 L2108.2,191.8 L2121.8,191.8 Z" fill="#111"/>
<path d="M2115,275.7 L2107.8,264.8 L2121.8,264.8 Z" fill="#111"/>
<rect x="2117" y="280.4" width="138.4" height="56" fill="url(#hatch)"/>
<rect x="2131.3" y="292.7" width="114.6" height="28.6" fill="#fff"/>
<path d="M2082.3,279 H2255.4" stroke="#3a3a3a" stroke-width="2.6"/>
<path d="M2115,279 V337" stroke="#3a3a3a" stroke-width="2.8"/>
<text font-family="'Liberation Serif','Times New Roman',serif" font-size="85" fill="#000" transform="translate(120.03,105.99) scale(0.9388,1.0105)">1.4</text>
<text font-family="'Liberation Serif','Times New Roman',serif" font-size="85" fill="#000" transform="translate(119.82,271.74) scale(0.9684,1.0105)">1.2</text>
<text font-family="'Liberation Serif','Times New Roman',serif" font-size="85" fill="#000" transform="translate(185.92,438.50) scale(0.7400,1.0286)">1</text>
<text font-family="'Liberation Serif','Times New Roman',serif" font-size="85" fill="#000" transform="translate(117.65,603.24) scale(0.9830,1.0105)">0.8</text>
<text font-family="'Liberation Serif','Times New Roman',serif" font-size="85" fill="#000" transform="translate(117.45,768.99) scale(0.9822,1.0105)">0.6</text>
<text font-family="'Liberation Serif','Times New Roman',serif" font-size="85" fill="#000" transform="translate(120.03,1425.49) scale(0.9388,1.0105)">1.4</text>
<text font-family="'Liberation Serif','Times New Roman',serif" font-size="85" fill="#000" transform="translate(119.82,1586.24) scale(0.9684,1.0105)">1.2</text>
<text font-family="'Liberation Serif','Times New Roman',serif" font-size="85" fill="#000" transform="translate(185.92,1748.00) scale(0.7400,1.0286)">1</text>
<text font-family="'Liberation Serif','Times New Roman',serif" font-size="85" fill="#000" transform="translate(117.65,1907.74) scale(0.9830,1.0105)">0.8</text>
<text font-family="'Liberation Serif','Times New Roman',serif" font-size="85" fill="#000" transform="translate(117.45,2068.49) scale(0.9822,1.0105)">0.6</text>
<text font-family="'Liberation Serif','Times New Roman',serif" font-size="85" fill="#000" transform="translate(120.03,2680.29) scale(0.9388,1.0053)">1.4</text>
<text font-family="'Liberation Serif','Times New Roman',serif" font-size="85" fill="#000" transform="translate(119.82,2842.67) scale(0.9684,1.0053)">1.2</text>
<text font-family="'Liberation Serif','Times New Roman',serif" font-size="85" fill="#000" transform="translate(185.92,3006.05) scale(0.7400,1.0232)">1</text>
<text font-family="'Liberation Serif','Times New Roman',serif" font-size="85" fill="#000" transform="translate(117.65,3167.42) scale(0.9830,1.0053)">0.8</text>
<text font-family="'Liberation Serif','Times New Roman',serif" font-size="85" fill="#000" transform="translate(117.45,3329.79) scale(0.9822,1.0053)">0.6</text>
<text font-family="'Liberation Serif','Times New Roman',serif" font-size="85" fill="#000" transform="translate(288.22,855.50) scale(0.9944,1.0035)">0</text>
<text font-family="'Liberation Serif','Times New Roman',serif" font-size="85" fill="#000" transform="translate(1249.92,856.17) scale(0.9270,1.0281)">0.5</text>
<text font-family="'Liberation Serif','Times New Roman',serif" font-size="85" fill="#000" transform="translate(2239.61,856.50) scale(0.7267,1.0161)">1</text>
<text font-family="'Liberation Serif','Times New Roman',serif" font-size="85" fill="#000" transform="translate(292.32,2131.01) scale(0.9917,0.9912)">0</text>
<text font-family="'Liberation Serif','Times New Roman',serif" font-size="85" fill="#000" transform="translate(1253.22,2131.98) scale(0.9270,1.0175)">0.5</text>
<text font-family="'Liberation Serif','Times New Roman',serif" font-size="85" fill="#000" transform="translate(2242.25,2132.60) scale(0.7500,1.0286)">1</text>
<text font-family="'Liberation Serif','Times New Roman',serif" font-size="85" fill="#000" transform="translate(295.08,3413.80) scale(0.9722,1.0035)">0</text>
<text font-family="'Liberation Serif','Times New Roman',serif" font-size="85" fill="#000" transform="translate(1257.54,3414.87) scale(0.9190,1.0281)">0.5</text>
<text font-family="'Liberation Serif','Times New Roman',serif" font-size="85" fill="#000" transform="translate(2246.73,3415.60) scale(0.7100,1.0321)">1</text>
<text font-family="'Liberation Sans',Arial,sans-serif" font-size="80" fill="#000" transform="translate(1252.87,958.52) scale(0.9817,0.9807)">Cn</text>
<text font-family="'Liberation Sans',Arial,sans-serif" font-size="80" fill="#000" transform="translate(1252.88,2225.29) scale(0.9806,1.0053)">Cn</text>
<text font-family="'Liberation Sans',Arial,sans-serif" font-size="80" fill="#000" transform="translate(1256.40,3528.00) scale(0.9742,1.0035)">Cn</text>
<text font-family="'Liberation Sans',Arial,sans-serif" font-size="80" fill="#000" transform="translate(84.90,484.00) rotate(-90) scale(0.9821,1.0327)">AVn</text>
<text font-family="'Liberation Sans',Arial,sans-serif" font-size="80" fill="#000" transform="translate(81.80,1793.80) rotate(-90) scale(0.9821,1.0309)">AVn</text>
<text font-family="'Liberation Sans',Arial,sans-serif" font-size="80" fill="#000" transform="translate(81.80,3050.00) rotate(-90) scale(0.9900,1.0309)">AVn</text>
<text font-family="'Liberation Serif','Times New Roman',serif" font-size="75" fill="#000" transform="translate(654.29,1071.60) scale(0.9035,1.0163)">CW*36</text>
<text font-family="'Liberation Serif','Times New Roman',serif" font-size="75" fill="#000" transform="translate(654.59,1155.50) scale(0.9049,0.9735)">CW*12</text>
<text font-family="'Liberation Serif','Times New Roman',serif" font-size="75" fill="#000" transform="translate(1320.32,1071.60) scale(0.8930,1.0163)">CW*44</text>
<text font-family="'Liberation Serif','Times New Roman',serif" font-size="75" fill="#000" transform="translate(1319.97,1155.50) scale(0.9084,0.9735)">CW*20</text>
<text font-family="'Liberation Serif','Times New Roman',serif" font-size="75" fill="#000" transform="translate(1983.56,1071.60) scale(0.9124,1.0163)">CW*72</text>
<text font-family="'Liberation Serif','Times New Roman',serif" font-size="75" fill="#000" transform="translate(1983.60,1155.50) scale(0.9009,0.9735)">CW*28</text>
<text font-family="'Liberation Serif','Times New Roman',serif" font-size="75" fill="#000" transform="translate(656.49,2323.50) scale(0.9023,0.9796)">SH*0.2</text>
<text font-family="'Liberation Serif','Times New Roman',serif" font-size="75" fill="#000" transform="translate(656.23,2408.70) scale(0.8946,0.9735)">SH*1.4</text>
<text font-family="'Liberation Serif','Times New Roman',serif" font-size="75" fill="#000" transform="translate(1322.52,2326.50) scale(0.8959,0.9796)">SH*0.4</text>
<text font-family="'Liberation Serif','Times New Roman',serif" font-size="75" fill="#000" transform="translate(1322.46,2411.00) scale(0.9087,0.9633)">SH*2.0</text>
<text font-family="'Liberation Serif','Times New Roman',serif" font-size="75" fill="#000" transform="translate(1975.96,2323.50) scale(0.9073,0.9796)">SH*0.9</text>
<text font-family="'Liberation Serif','Times New Roman',serif" font-size="75" fill="#000" transform="translate(1975.01,2408.70) scale(0.8986,0.9735)">SH*0.7</text>
<text font-family="'Liberation Serif','Times New Roman',serif" font-size="75" fill="#000" transform="translate(665.91,3660.70) scale(0.9175,1.0041)">SP*0.2</text>
<text font-family="'Liberation Serif','Times New Roman',serif" font-size="75" fill="#000" transform="translate(666.51,3744.50) scale(0.8971,1.0102)">SP*0.5</text>
<text font-family="'Liberation Serif','Times New Roman',serif" font-size="75" fill="#000" transform="translate(1328.99,3660.70) scale(0.9019,1.0041)">SP*0.3</text>
<text font-family="'Liberation Serif','Times New Roman',serif" font-size="75" fill="#000" transform="translate(1330.07,3744.50) scale(0.9053,1.0102)">SP*0.6</text>
<text font-family="'Liberation Serif','Times New Roman',serif" font-size="75" fill="#000" transform="translate(1982.43,3663.20) scale(0.9130,1.0000)">SP*0.9</text>
<text font-family="'Liberation Serif','Times New Roman',serif" font-size="75" fill="#000" transform="translate(1981.75,3747.00) scale(0.9096,1.0102)">SP*0.7</text>
<text font-family="'Liberation Serif','Times New Roman',serif" font-size="75" fill="#000" transform="translate(1157.46,1289.61) scale(0.9469,1.0061)">(<tspan font-weight="bold">a</tspan>)</text>
<text font-family="'Liberation Serif','Times New Roman',serif" font-size="75" fill="#000" transform="translate(1153.93,2545.81) scale(0.9906,0.9925)">(<tspan font-weight="bold">b</tspan>)</text>
<text font-family="'Liberation Serif','Times New Roman',serif" font-size="75" fill="#000" transform="translate(1160.52,3915.96) scale(0.9610,1.0227)">(<tspan font-weight="bold">c</tspan>)</text>
<text font-family="'Liberation Sans',Arial,sans-serif" font-size="28" fill="#333" stroke="#333" stroke-width="0.8" transform="translate(2139.50,317.20) scale(1.0010,1.0368)">TOOTH</text>
<text font-family="'Liberation Serif','Times New Roman',serif" font-size="45" fill="#333" transform="translate(2131.67,245.29) scale(1.1647,1.0641)">&#958;</text>
</g>
</svg></body></html>
